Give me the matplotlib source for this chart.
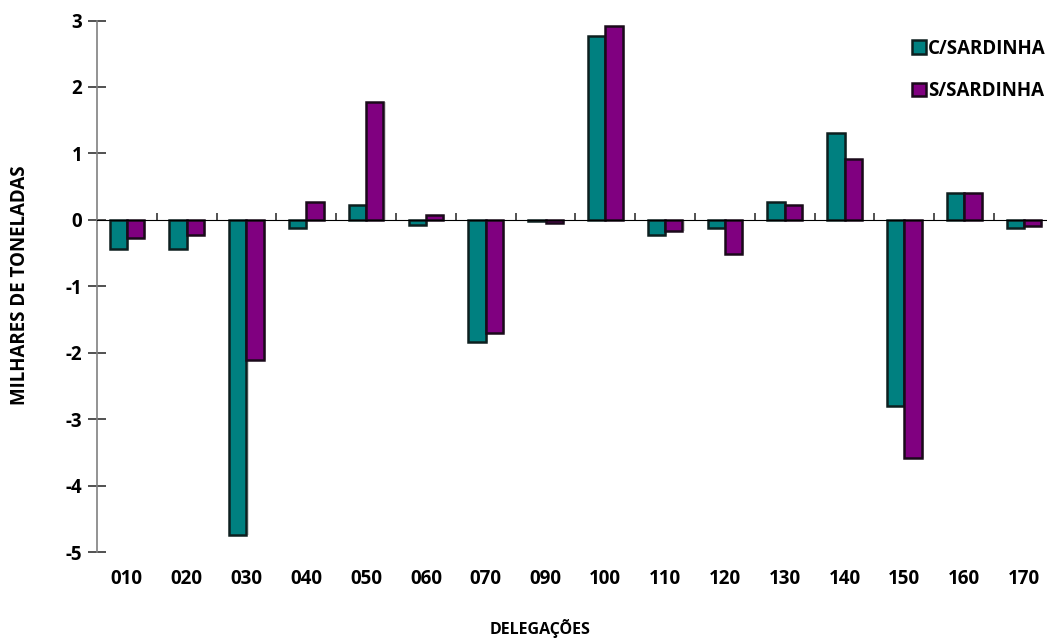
import numpy as np
import matplotlib.pyplot as plt

plt.rcParams['font.family'] = ['Open Sans', 'DejaVu Sans']
plt.rcParams['axes.unicode_minus'] = False

delegacoes = ['010', '020', '030', '040', '050', '060', '070', '090',
              '100', '110', '120', '130', '140', '150', '160', '170']
c_sardinha = [-0.44, -0.44, -4.75, -0.12, 0.22, -0.08, -1.84, -0.02,
              2.77, -0.23, -0.12, 0.27, 1.31, -2.80, 0.41, -0.12]
s_sardinha = [-0.28, -0.23, -2.11, 0.27, 1.78, 0.08, -1.70, -0.05,
              2.91, -0.17, -0.51, 0.22, 0.92, -3.59, 0.41, -0.10]

teal = '#008080'
purple = '#800080'

fig = plt.figure(figsize=(10.47, 6.41), dpi=100)
ax = fig.add_axes([0.0926, 0.1388, 0.914, 0.8292])

x = np.arange(len(delegacoes))
w = 0.29

# soft shadow behind the bars
for off, vals in [(-w/2, c_sardinha), (w/2, s_sardinha)]:
    ax.bar(x + off + 0.035, vals, w, color='#c8c8c8', alpha=0.7, zorder=2,
           linewidth=0)
ax.bar(x - w/2, c_sardinha, w, color=teal, edgecolor='#0d1f1f',
       linewidth=1.8, zorder=3, label='C/SARDINHA')
ax.bar(x + w/2, s_sardinha, w, color=purple, edgecolor='#1a0a1a',
       linewidth=1.8, zorder=3, label='S/SARDINHA')

ax.set_xlim(-0.5, len(delegacoes) - 0.5)
ax.set_ylim(-5, 3)

for s in ['top', 'right', 'bottom']:
    ax.spines[s].set_visible(False)
ax.spines['left'].set_color('#808080')
ax.spines['left'].set_linewidth(1.2)

ax.set_yticks(range(-5, 4))
ax.tick_params(axis='y', direction='inout', length=13, width=1.2,
               color='#333333', pad=4, labelsize=13.5)
for t in ax.get_yticklabels():
    t.set_fontweight('bold')

ax.set_xticks(x)
ax.set_xticklabels(delegacoes, fontsize=13.5, fontweight='bold')
ax.tick_params(axis='x', length=0, pad=12)

# zero line with separator ticks between delegations
zero_loc = (0 - (-5)) / 8
sec = ax.secondary_xaxis(zero_loc)
sec.set_xticks(np.arange(0.5, len(delegacoes) - 0.5, 1.0))
sec.set_xticklabels([])
sec.tick_params(direction='out', length=5, width=1.2, color='#333333')
sec.spines['bottom'].set_color('#808080')
sec.spines['bottom'].set_linewidth(1.2)
sec.set_zorder(4)

fig.text(540/1047, 1 - 628/641, 'DELEGAÇÕES', fontsize=11.5, fontweight='bold',
         ha='center', va='center')
fig.text(20/1047, 1 - 285/641, 'MILHARES DE TONELADAS', fontsize=13.5,
         fontweight='bold', rotation=90, ha='center', va='center')

ax.legend(loc='upper right', bbox_to_anchor=(1.0 + 5/957, 1.0 - 5/531),
          frameon=False, handlelength=0.75, handleheight=0.75,
          handletextpad=0.12, labelspacing=1.2, borderpad=0.2,
          prop={'weight': 'bold', 'size': 13.5})

fig.savefig('out.png', dpi=100)
